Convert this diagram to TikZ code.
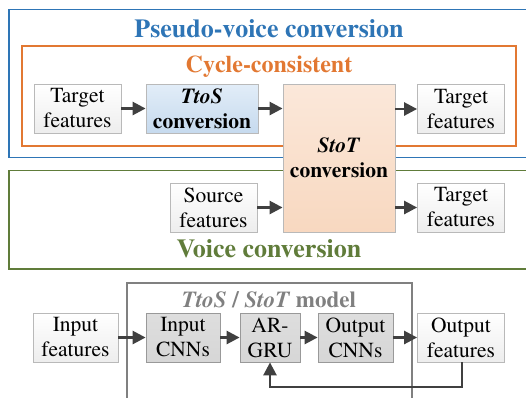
\documentclass[tikz,border=0pt]{standalone}
\usepackage[T1]{fontenc}
\renewcommand{\rmdefault}{ptm}
\usetikzlibrary{arrows.meta}
\usetikzlibrary{calc,positioning}

\definecolor{pvblue}{RGB}{46,117,182}
\definecolor{cycorange}{RGB}{226,120,50}
\definecolor{vcgreen}{RGB}{96,124,58}
\definecolor{mdlgray}{RGB}{128,128,128}
\definecolor{arrgray}{RGB}{64,64,64}
\definecolor{ttostop}{RGB}{226,237,248}
\definecolor{ttosbot}{RGB}{198,218,238}
\definecolor{stottop}{RGB}{251,232,218}
\definecolor{stotbot}{RGB}{248,216,192}
\newcommand{\boxfont}{\fontsize{21.5}{25}\selectfont}

\begin{document}
\begin{tikzpicture}[x=1pt, y=-1pt,
  >={Triangle[length=13pt, width=13pt]},
  flow/.style={->, line width=2.6pt, draw=arrgray, color=arrgray},
  frame/.style={line width=1.6pt},
  featbox/.style={draw=gray!55, line width=0.8pt, top color=white, bottom color=gray!14,
    align=center, font=\boxfont, inner sep=0pt, minimum height=49pt},
  ttosbox/.style={featbox, top color=ttostop, bottom color=ttosbot, font=\boxfont\bfseries},
  stotbox/.style={featbox, top color=stottop, bottom color=stotbot, font=\boxfont\bfseries},
  netbox/.style={featbox, top color=gray!26, bottom color=gray!32, draw=gray!80},
  title/.style={anchor=base, font=\fontsize{26}{30}\selectfont\bfseries}]

    \useasboundingbox (0,0) rectangle (526,397);

    % frames
    \draw[frame, pvblue] (530,9.5) -| (9,157.5) -- (530,157.5);
    \draw[frame, cycorange] (22,46) rectangle (516,146);
    \draw[frame, vcgreen] (530,170.5) -| (9,269) -- (530,269);
    \draw[frame, mdlgray] (127,400) |- (412,283) -- (412,400);

    \node[title, pvblue] (pvtitle) at (269,37) {Pseudo-voice conversion};
    \node[title, cycorange, font=\fontsize{24}{28}\selectfont\bfseries] (cyctitle) at (269,72) {Cycle-consistent};
    \node[title, vcgreen] (vctitle) at (269,257) {Voice conversion};
    \node[title, mdlgray, font=\fontsize{23}{27}\selectfont\bfseries] (mdltitle) at (269,307.5)
        {\textit{TtoS} / \textit{StoT} model};

    % pseudo-voice and voice conversion
    \node[featbox, minimum width=87pt] (tgtin) at (77.5,108.5) {Target\\features};
    \node[ttosbox, minimum width=112pt] (ttos) at (202,108.5) {\textit{TtoS}\\conversion};
    \node[stotbox, minimum width=112pt, minimum height=148pt] (stot) at (339,158) {\textit{StoT}\\conversion};
    \node[featbox, minimum width=87pt] (tgtout) at (461,109) {Target\\features};
    \node[featbox, minimum width=87pt] (src) at (213.5,207.5) {Source\\features};
    \node[featbox, minimum width=87pt] (vcout) at (461,207.5) {Target\\features};

    \draw[flow] (tgtin) -- (ttos);
    \draw[flow] (ttos) -- (ttos -| stot.west);
    \draw[flow] (stot.east |- tgtout) -- (tgtout);
    \draw[flow] (src) -- (src -| stot.west);
    \draw[flow] (stot.east |- vcout) -- (vcout);

    % model
    \node[featbox, minimum width=85pt] (inp) at (75.5,337.5) {Input\\features};
    \node[netbox, minimum width=74pt] (icnn) at (183,337.5) {Input\\CNNs};
    \node[netbox, minimum width=60pt] (argru) at (270,337.5) {AR-\\GRU};
    \node[netbox, minimum width=75pt] (ocnn) at (355.5,337.5) {Output\\CNNs};
    \node[featbox, minimum width=87pt] (outp) at (461,337.5) {Output\\features};

    \draw[flow] (inp) -- (icnn);
    \draw[flow] (icnn) -- (argru);
    \draw[flow] (argru) -- (ocnn);
    \draw[flow] (ocnn) -- (outp);
    \coordinate (fb) at (462,387);
    \draw[flow] (outp.south -| fb) -- (fb) -| (argru.south);

\end{tikzpicture}
\end{document}
